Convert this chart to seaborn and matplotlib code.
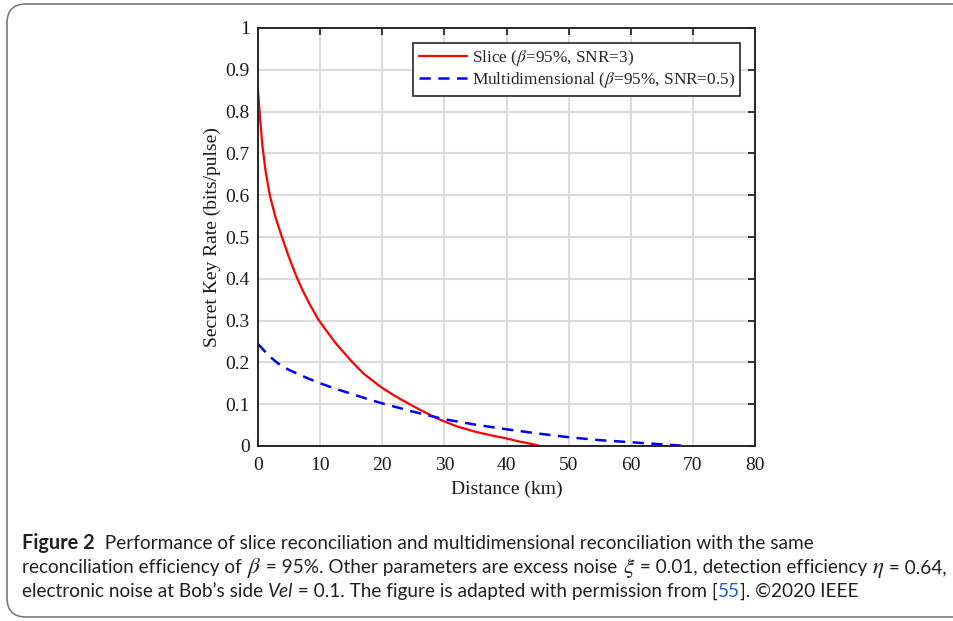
import matplotlib
matplotlib.use("Agg")
import matplotlib.pyplot as plt
from matplotlib.patches import FancyBboxPatch
import seaborn as sns
import pandas as pd

# secret key rate vs distance
slice_km = [0, 0.3, 0.7, 1.2, 1.9, 2.8, 3.8, 5, 6.2, 7.2, 8.4, 9.7, 11, 12.5, 14.8,
            17, 19.7, 22, 25, 28.8, 32, 35, 38, 40, 42, 44, 45.4]
slice_skr = [0.852, 0.79, 0.72, 0.66, 0.60, 0.548, 0.502, 0.451, 0.405, 0.372, 0.337,
             0.303, 0.276, 0.246, 0.207, 0.173, 0.142, 0.120, 0.095, 0.066, 0.047,
             0.034, 0.024, 0.018, 0.011, 0.005, 0.0]
multi_km = [0, 1, 2, 3, 4, 5, 6.5, 8, 10, 12.5, 15, 17.5, 20, 25, 30, 35, 40, 45,
            50, 55, 60, 65, 69.2]
multi_skr = [0.244, 0.228, 0.213, 0.200, 0.190, 0.182, 0.172, 0.162, 0.150, 0.137,
             0.125, 0.113, 0.102, 0.082, 0.064, 0.051, 0.040, 0.030, 0.021, 0.014,
             0.009, 0.004, 0.0]

x_ticks = [0, 10, 20, 30, 40, 50, 60, 70, 80]
y_ticks = [0, 0.1, 0.2, 0.3, 0.4, 0.5, 0.6, 0.7, 0.8, 0.9, 1]
y_tick_labels = ["0", "0.1", "0.2", "0.3", "0.4", "0.5", "0.6", "0.7", "0.8", "0.9", "1"]

slice_label = r"Slice ($\beta$=95%, SNR=3)"
multi_label = r"Multidimensional ($\beta$=95%, SNR=0.5)"

sns.set_theme(style="whitegrid")
plt.rcParams["font.family"] = ["Liberation Serif", "DejaVu Serif"]
plt.rcParams["mathtext.fontset"] = "stix"

fig = plt.figure(figsize=(9.54, 6.21), dpi=100)
fig.patch.set_facecolor("white")
ax = fig.add_axes([258 / 954, 1 - 446 / 621, (755 - 258) / 954, (446 - 28) / 621])

df_slice = pd.DataFrame({"km": slice_km, "skr": slice_skr})
df_multi = pd.DataFrame({"km": multi_km, "skr": multi_skr})

sns.lineplot(data=df_slice, x="km", y="skr", ax=ax, color="#ff0000", lw=1.6,
             label=slice_label)
sns.lineplot(data=df_multi, x="km", y="skr", ax=ax, color="#0000ff", lw=1.8,
             linestyle=(0, (4.5, 3.0)), label=multi_label)

ax.set_xlim(0, 80)
ax.set_ylim(0, 1)
ax.set_xticks(x_ticks)
ax.set_yticks(y_ticks)
ax.set_yticklabels(y_tick_labels)
ax.set_xlabel("Distance (km)", fontsize=14, color="#1a1a1a", labelpad=5)
ax.set_ylabel("Secret Key Rate (bits/pulse)", fontsize=14, color="#1a1a1a", labelpad=3)
ax.tick_params(axis="both", direction="in", length=5, width=1.3, colors="#262626",
               labelsize=14, labelcolor="#1a1a1a", top=True, right=True, pad=6)
ax.tick_params(axis="x", pad=8)
ax.grid(True, color="#dcdcdc", lw=1.5)
ax.set_facecolor("white")
for sp in ax.spines.values():
    sp.set_visible(True)
    sp.set_color("#262626")
    sp.set_linewidth(1.4)

leg = ax.legend(loc="upper right", fontsize=12.4, frameon=True, fancybox=False,
                borderaxespad=0.85, handlelength=2.8, handletextpad=0.3,
                borderpad=0.3, labelspacing=0.15)
leg.get_frame().set_edgecolor("#262626")
leg.get_frame().set_linewidth(1.2)
leg.get_frame().set_alpha(1)

# rounded frame around the figure + caption
frame = FancyBboxPatch((7 / 954, 4 / 621), 1.2, 613 / 621, transform=fig.transFigure,
                       boxstyle="round,pad=0,rounding_size=0.02", fill=False,
                       edgecolor="#7a7a7a", lw=1.2, mutation_aspect=954 / 621)
fig.patches.append(frame)

cap_font = ["Lato", "DejaVu Sans"]
cap_size = 13.7
cap_color = "#231f20"

fig.canvas.draw()
renderer = fig.canvas.get_renderer()


def caption_line(parts, x0, y):
    x = x0
    for txt, style in parts:
        kw = dict(fontsize=cap_size, family=cap_font, color=cap_color, va="baseline")
        if style == "bold":
            kw["weight"] = "bold"
            kw["fontsize"] = cap_size + 0.6
        elif style == "italic":
            kw["style"] = "italic"
        elif style == "link":
            kw["color"] = "#1f5fbf"
        elif style == "math":
            kw["fontsize"] = cap_size + 3
        t = fig.text(x / 954, 1 - y / 621, txt, **kw)
        bb = t.get_window_extent(renderer)
        x += bb.width


caption_line([("Figure 2", "bold"),
              ("  Performance of slice reconciliation and multidimensional reconciliation with the same", None)],
             22, 549)
caption_line([("reconciliation efficiency of ", None), (r"$\beta$", "math"),
              (" = 95%. Other parameters are excess noise ", None), (r"$\xi$", "math"),
              (" = 0.01, detection efficiency ", None), (r"$\eta$", "math"),
              (" = 0.64,", None)], 22, 573)
caption_line([("electronic noise at Bob\u2019s side ", None), ("Vel", "italic"),
              (" = 0.1. The figure is adapted with permission from [", None), ("55", "link"),
              ("]. \u00a92020 IEEE", None)], 22, 597)

fig.savefig("out.png", dpi=100, facecolor="white")
